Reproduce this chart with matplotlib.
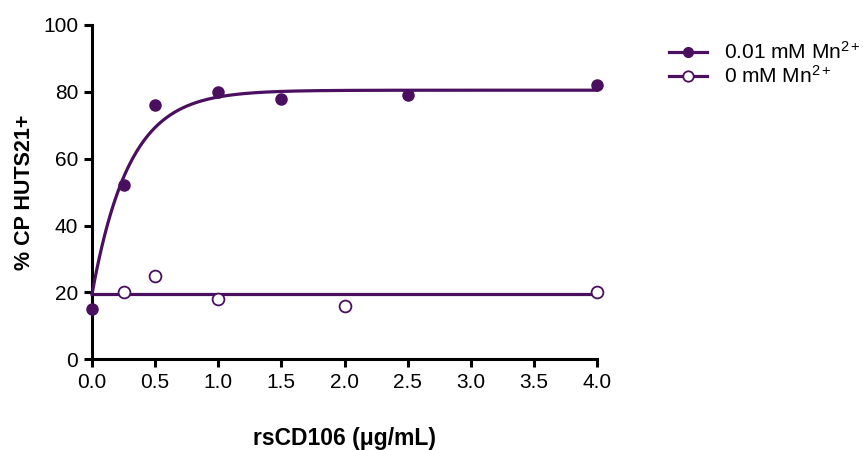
import numpy as np
import matplotlib
matplotlib.use("Agg")
import matplotlib.pyplot as plt
from matplotlib.lines import Line2D

plt.rcParams['font.family'] = ['Liberation Sans', 'DejaVu Sans']
plt.rcParams['mathtext.fontset'] = 'custom'
plt.rcParams['mathtext.rm'] = 'Liberation Sans'
plt.rcParams['mathtext.it'] = 'Liberation Sans:italic'
plt.rcParams['mathtext.bf'] = 'Liberation Sans:bold'

color = '#4b0f5f'

# Data
x_mn = [0.0, 0.25, 0.5, 1.0, 1.5, 2.5, 4.0]
y_mn = [15, 52, 76, 80, 78, 79, 82]
x_no = [0.25, 0.5, 1.0, 2.0, 4.0]
y_no = [20, 25, 18, 16, 20]

# Fit parameters (one-phase association)
fit_y0 = 19.5
fit_plateau = 80.5
fit_k = 3.4
# Constant fit for 0 mM
fit_const = 19.6

xticks = [0.0, 0.5, 1.0, 1.5, 2.0, 2.5, 3.0, 3.5, 4.0]
yticks = [0, 20, 40, 60, 80, 100]

fig = plt.figure(figsize=(8.63, 4.5), dpi=100)
ax = fig.add_axes([92/863, 90.7/450, (597-92)/863, (425-90.7)/450])

xs = np.linspace(0, 4, 400)
ax.plot(xs, fit_y0 + (fit_plateau - fit_y0) * (1 - np.exp(-fit_k * xs)),
        color=color, lw=2.3, clip_on=False, zorder=3)
ax.plot([0, 4], [fit_const, fit_const], color=color, lw=2.3, clip_on=False, zorder=3)

ax.plot(x_mn, y_mn, 'o', color=color, ms=8, clip_on=False, zorder=4)
ax.plot(x_no, y_no, 'o', mfc='white', mec=color, mew=1.3, ms=8.5, clip_on=False, zorder=4)

ax.set_xlim(0, 4)
ax.set_ylim(0, 100)
ax.set_xticks(xticks)
ax.set_xticklabels([f"{v:.1f}" for v in xticks])
ax.set_yticks(yticks)
for s in ['top', 'right']:
    ax.spines[s].set_visible(False)
for s in ['left', 'bottom']:
    ax.spines[s].set_linewidth(2.2)
    ax.spines[s].set_color('black')
ax.tick_params(width=2.2, length=6, labelsize=15, colors='black', pad=4)

ax.set_xlabel('rsCD106 (μg/mL)', fontsize=16.5, fontweight='bold', labelpad=25)
ax.set_ylabel('% CP HUTS21+', fontsize=15.5, fontweight='bold', labelpad=6)

h1 = Line2D([], [], color=color, lw=2.3, marker='o', ms=7, mfc=color, mec=color)
h2 = Line2D([], [], color=color, lw=2.3, marker='o', ms=7.5, mfc='white', mec=color, mew=1.3)
fig.legend([h1, h2], ['0.01 mM Mn$^{2+}$', '0 mM Mn$^{2+}$'],
           loc='upper left', bbox_to_anchor=(661/863, 1 - 33/450),
           frameon=False, fontsize=15, handlelength=1.8, handletextpad=0.8,
           labelspacing=0.1, borderaxespad=0)

fig.savefig('out.png', dpi=100)
